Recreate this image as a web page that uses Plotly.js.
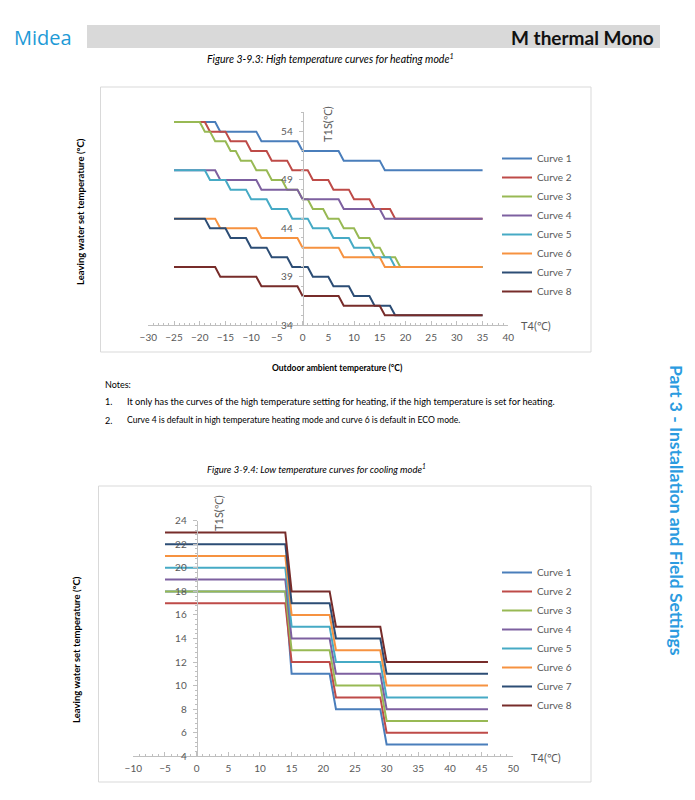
<!DOCTYPE html>
<html><head><meta charset="utf-8">
<script src="https://cdn.plot.ly/plotly-3.0.1.min.js"></script>
<style>html,body{margin:0;padding:0;background:#fff}#chart{width:695px;height:800px}</style>
</head><body><div id="chart"></div>
<script>
// ---- data ----
const curveNames = ["Curve 1","Curve 2","Curve 3","Curve 4","Curve 5","Curve 6","Curve 7","Curve 8"];

// Figure 3-9.3 heating (T4 -> T1S)
const heatX1 = [-25,-17,-16,-9,-8,-1,0,7,8,15,16,35];
const heatY1 = [55,55,54,54,53,53,52,52,51,51,50,50];
const heatX2 = [-25,-19,-18,-15,-14,-11,-10,-7,-6,-3,-2,1,2,5,6,9,10,13,14,17,18,35];
const heatY2 = [55,55,54,54,53,53,52,52,51,51,50,50,49,49,48,48,47,47,46,46,45,45];
const heatX3 = [-25,-20,-19,-18,-17,-15,-14,-13,-12,-10,-9,-7,-6,-4,-3,-1,0,1,2,4,5,7,8,10,11,13,14,15,16,18,19,35];
const heatY3 = [55,55,54,54,53,53,52,52,51,51,50,50,49,49,48,48,47,47,46,46,45,45,44,44,43,43,42,42,41,41,40,40];
const heatX4 = [-25,-17,-16,-9,-8,-1,0,7,8,15,16,35];
const heatY4 = [50,50,49,49,48,48,47,47,46,46,45,45];
const heatX5 = [-25,-19,-18,-15,-14,-11,-10,-7,-6,-3,-2,1,2,5,6,9,10,13,14,17,18,35];
const heatY5 = [50,50,49,49,48,48,47,47,46,46,45,45,44,44,43,43,42,42,41,41,40,40];
const heatX6 = [-25,-17,-16,-9,-8,-1,0,7,8,15,16,35];
const heatY6 = [45,45,44,44,43,43,42,42,41,41,40,40];
const heatX7 = [-25,-19,-18,-15,-14,-11,-10,-7,-6,-3,-2,1,2,5,6,9,10,13,14,17,18,35];
const heatY7 = [45,45,44,44,43,43,42,42,41,41,40,40,39,39,38,38,37,37,36,36,35,35];
const heatX8 = [-25,-17,-16,-9,-8,-1,0,7,8,15,16,35];
const heatY8 = [40,40,39,39,38,38,37,37,36,36,35,35];

// Figure 3-9.4 cooling (T4 -> T1S)
const coolX  = [-5,14,15,21,22,29,30,46];
const coolY1 = [18,18,11,11,8,8,5,5];
const coolY2 = [17,17,12,12,9,9,6,6];
const coolY3 = [18,18,13,13,10,10,7,7];
const coolY4 = [19,19,14,14,11,11,8,8];
const coolY5 = [20,20,15,15,12,12,9,9];
const coolY6 = [21,21,16,16,13,13,10,10];
const coolY7 = [22,22,17,17,14,14,11,11];
const coolY8 = [23,23,18,18,15,15,12,12];

const heatTicks = [34,39,44,49,54];
const coolTicks = [4,6,8,10,12,14,16,18,20,22,24];

// ---- styling ----
const colors = ["#4A7EBB","#BE4B48","#98B954","#7D60A0","#46AAC5","#F69240","#2C4D75","#772C2A"];
const W = 695, H = 800;
const px = v => v / W, py = v => 1 - v / H;
const FONT = "Lato, 'Open Sans', sans-serif";
const GREY = "#595959", AX = "#BFBFBF";

const heatX = [heatX1,heatX2,heatX3,heatX4,heatX5,heatX6,heatX7,heatX8];
const heatY = [heatY1,heatY2,heatY3,heatY4,heatY5,heatY6,heatY7,heatY8];
const coolY = [coolY1,coolY2,coolY3,coolY4,coolY5,coolY6,coolY7,coolY8];

const traces = [];
curveNames.forEach((n,i) => traces.push({
  x: heatX[i], y: heatY[i], xaxis:'x', yaxis:'y', mode:'lines', name:n,
  line:{color:colors[i], width:2}, legend:'legend', hoverinfo:'skip'
}));
curveNames.forEach((n,i) => traces.push({
  x: coolX, y: coolY[i], xaxis:'x2', yaxis:'y2', mode:'lines', name:n,
  line:{color:colors[i], width:2}, legend:'legend2', hoverinfo:'skip'
}));

function xAx(domain, range, anchor){
  return {domain, range, anchor, dtick:5, tick0:0, ticks:'inside', ticklen:4, tickcolor:AX,
    showline:true, linecolor:AX, linewidth:1, showgrid:false, zeroline:false,
    tickfont:{size:10, color:GREY}, ticklabelstandoff:3,
    minor:{dtick:1, ticks:'inside', ticklen:2, tickcolor:AX, showgrid:false}, fixedrange:true};
}
function yAx(domain, range, pos, vals, minorD){
  return {domain, range, anchor:'free', position:pos, tickmode:'array', tickvals:vals,
    ticks:'outside', ticklen:4, tickcolor:AX, showline:true, linecolor:AX, linewidth:1,
    showgrid:false, zeroline:false, tickfont:{size:10, color:GREY}, ticklabelstandoff:4,
    minor:{dtick:minorD, tick0:range[0], ticks:'outside', ticklen:2, tickcolor:AX, showgrid:false}, fixedrange:true};
}

const ann = (text, x, y, o={}) => Object.assign({text, x:px(x), y:py(y), xref:'paper', yref:'paper',
  showarrow:false, xanchor:'center', yanchor:'middle', font:{family:FONT, size:9, color:'#000'}}, o);

const layout = {
  width:W, height:H, margin:{l:0,r:0,t:0,b:0}, paper_bgcolor:'#fff', plot_bgcolor:'rgba(0,0,0,0)',
  font:{family:FONT, color:GREY},
  showlegend:true,
  xaxis: xAx([px(148.3), px(508.3)], [-30,40], 'y'),
  yaxis: yAx([py(325), py(112.3)], [34,56], px(302.7), heatTicks, 1),
  xaxis2: xAx([px(133.3), px(513.3)], [-10,50], 'y2'),
  yaxis2: yAx([py(756.3), py(520.7)], [4,24], px(196.7), coolTicks, 0.4),
  legend: {x:px(497), y:py(144), xanchor:'left', yanchor:'top', bgcolor:'rgba(0,0,0,0)',
    font:{size:10, color:GREY, family:FONT}, itemclick:false, itemdoubleclick:false},
  legend2: {x:px(497), y:py(558), xanchor:'left', yanchor:'top', bgcolor:'rgba(0,0,0,0)',
    font:{size:10, color:GREY, family:FONT}, itemclick:false, itemdoubleclick:false},
  shapes: [
    {type:'rect', xref:'paper', yref:'paper', x0:px(87), x1:px(660), y0:py(48), y1:py(25), fillcolor:'#D9D9D9', line:{width:0}, layer:'below'},
    {type:'rect', xref:'paper', yref:'paper', x0:px(100.5), x1:px(591), y0:py(352), y1:py(87), line:{color:'#D9D9D9', width:1}, layer:'below'},
    {type:'rect', xref:'paper', yref:'paper', x0:px(98.5), x1:px(591), y0:py(782), y1:py(486), line:{color:'#D9D9D9', width:1}, layer:'below'}
  ],
  annotations: [
    ann('Midea', 12, 38, {xanchor:'left', font:{family:"'Open Sans', sans-serif", size:20, color:'#1E9AD6'}}),
    ann('<b>M thermal Mono</b>', 656, 37, {xanchor:'right', font:{family:FONT, size:19, color:'#111'}}),
    ann('<i>Figure 3-9.3: High temperature curves for heating mode<sup>1</sup></i>', 330, 58, {font:{family:FONT, size:10.5, color:'#000'}}),
    ann('T1S(℃)', 327, 124, {textangle:-90, font:{family:FONT, size:11, color:GREY}}),
    ann('T4(℃)', 519, 325, {xanchor:'left', font:{family:FONT, size:11, color:GREY}}),
    ann('<b>Leaving water set temperature (°C)</b>', 80, 212, {textangle:-90, font:{family:FONT, size:9.5, color:'#000'}}),
    ann('<b>Outdoor ambient temperature (°C)</b>', 337, 368, {font:{family:FONT, size:8.5, color:'#000'}}),
    ann('Notes:', 103, 384, {xanchor:'left', font:{family:FONT, size:9, color:'#000'}}),
    ann('1.', 103, 402, {xanchor:'left', font:{family:FONT, size:9, color:'#000'}}),
    ann('It only has the curves of the high temperature setting for heating, if the high temperature is set for heating.', 125, 402, {xanchor:'left', font:{family:FONT, size:9.2, color:'#000'}}),
    ann('2.', 103, 420, {xanchor:'left', font:{family:FONT, size:9, color:'#000'}}),
    ann('Curve 4 is default in high temperature heating mode and curve 6 is default in ECO mode.', 125, 420, {xanchor:'left', font:{family:FONT, size:8.6, color:'#000'}}),
    ann('<i>Figure 3-9.4: Low temperature curves for cooling mode<sup>1</sup></i>', 316, 468, {font:{family:FONT, size:9.5, color:'#000'}}),
    ann('T1S(℃)', 218, 513, {textangle:-90, font:{family:FONT, size:11, color:GREY}}),
    ann('T4(℃)', 529, 757, {xanchor:'left', font:{family:FONT, size:11, color:GREY}}),
    ann('<b>Leaving water set temperature (°C)</b>', 76, 650, {textangle:-90, font:{family:FONT, size:9.5, color:'#000'}}),
    ann('<b>Part 3 - Installation and Field Settings</b>', 676, 510, {textangle:90, font:{family:FONT, size:17.5, color:'#2B9BE0'}})
  ]
};

Plotly.newPlot('chart', traces, layout, {staticPlot:true, displayModeBar:false});
</script></body></html>
